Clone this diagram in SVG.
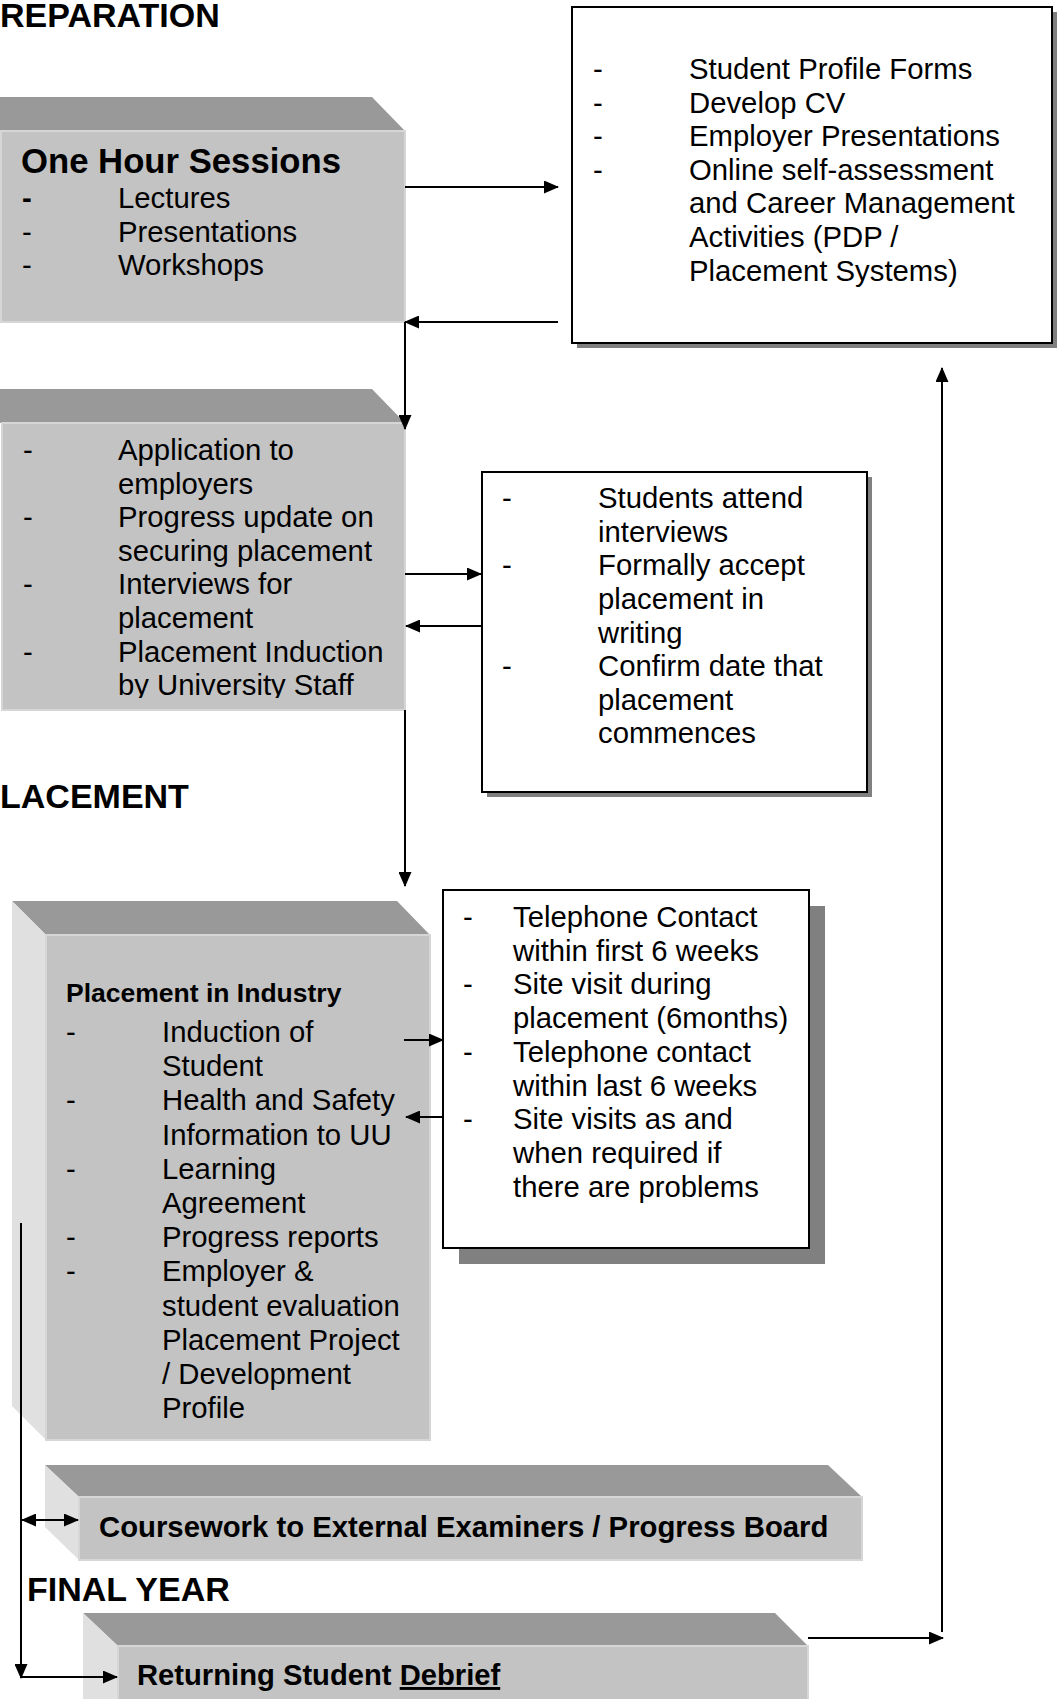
<svg xmlns="http://www.w3.org/2000/svg" width="1061" height="1699" viewBox="0 0 1061 1699">
<style>
.t{font-family:"Liberation Sans",Arial,sans-serif;font-size:29.3px;fill:#000}
.b{font-family:"Liberation Sans",Arial,sans-serif;font-weight:bold;fill:#000}
.top{fill:#999999}
.side{fill:#e0e0e0}
.front{fill:#c3c3c3;stroke:#d6d6d6;stroke-width:2}
.box{fill:#fff;stroke:#000;stroke-width:2}
.shadow{fill:#808080}
.ln{stroke:#000;stroke-width:2;fill:none}
</style>
<defs>
<marker id="ah" markerUnits="userSpaceOnUse" markerWidth="15" markerHeight="13" refX="14" refY="6.5" orient="auto-start-reverse">
<path d="M0,0 L15,6.5 L0,13 z" fill="#000"/>
</marker>
<clipPath id="clip3"><rect x="0" y="423" width="405" height="275"/></clipPath>
</defs>
<rect x="0" y="0" width="1061" height="1699" fill="#fff"/>

<text class="b" x="0" y="27" font-size="34">REPARATION</text>
<text class="b" x="0" y="808" font-size="34">LACEMENT</text>
<text class="b" x="27" y="1601" font-size="34">FINAL YEAR</text>

<g id="sessions">
<polygon class="top" points="-40,97 372,97 405,131 -40,131"/>
<rect class="front" x="1" y="131" width="404" height="191"/>
<text class="b" x="21" y="173" font-size="34.7">One Hour Sessions</text>
<text class="t"><tspan x="22" y="208" font-weight="bold">-</tspan><tspan x="118" y="208">Lectures</tspan><tspan x="22" y="242">-</tspan><tspan x="118" y="242">Presentations</tspan><tspan x="22" y="275">-</tspan><tspan x="118" y="275">Workshops</tspan></text>
</g>

<g id="profile">
<rect class="shadow" x="577" y="12" width="480" height="336"/>
<rect class="box" x="572" y="7" width="480" height="336"/>
<text class="t"><tspan x="593" y="79">-</tspan><tspan x="689" y="79">Student Profile Forms</tspan><tspan x="593" y="113">-</tspan><tspan x="689" y="113">Develop CV</tspan><tspan x="593" y="146">-</tspan><tspan x="689" y="146">Employer Presentations</tspan><tspan x="593" y="180">-</tspan><tspan x="689" y="180">Online self-assessment</tspan><tspan x="689" y="213">and Career Management</tspan><tspan x="689" y="247">Activities (PDP /</tspan><tspan x="689" y="281">Placement Systems)</tspan></text>
</g>

<g id="application">
<polygon class="top" points="-40,389 372,389 405,423 -40,423"/>
<rect class="front" x="2" y="423" width="403" height="287"/>
<text class="t" clip-path="url(#clip3)"><tspan x="23" y="460">-</tspan><tspan x="118" y="460">Application to</tspan><tspan x="118" y="493.6">employers</tspan><tspan x="23" y="527.2">-</tspan><tspan x="118" y="527.2">Progress update on</tspan><tspan x="118" y="560.8">securing placement</tspan><tspan x="23" y="594.4">-</tspan><tspan x="118" y="594.4">Interviews for</tspan><tspan x="118" y="628">placement</tspan><tspan x="23" y="661.6">-</tspan><tspan x="118" y="661.6">Placement Induction</tspan><tspan x="118" y="695.2">by University Staff</tspan></text>
</g>

<g id="interviews">
<rect class="shadow" x="487" y="477" width="385" height="320"/>
<rect class="box" x="482" y="472" width="385" height="320"/>
<text class="t"><tspan x="502" y="508">-</tspan><tspan x="598" y="508">Students attend</tspan><tspan x="598" y="542">interviews</tspan><tspan x="502" y="575">-</tspan><tspan x="598" y="575">Formally accept</tspan><tspan x="598" y="609">placement in</tspan><tspan x="598" y="643">writing</tspan><tspan x="502" y="676">-</tspan><tspan x="598" y="676">Confirm date that</tspan><tspan x="598" y="710">placement</tspan><tspan x="598" y="743">commences</tspan></text>
</g>

<g id="industry">
<polygon class="top" points="12,901 397,901 430,935 46,935"/>
<polygon class="side" points="12,901 46,935 46,1440 12,1406"/>
<rect class="front" x="46" y="935" width="384" height="505"/>
<text class="b" x="66" y="1002" font-size="26.5">Placement in Industry</text>
<text class="t"><tspan x="66" y="1042">-</tspan><tspan x="162" y="1042">Induction of</tspan><tspan x="162" y="1076.2">Student</tspan><tspan x="66" y="1110.4">-</tspan><tspan x="162" y="1110.4">Health and Safety</tspan><tspan x="162" y="1144.6">Information to UU</tspan><tspan x="66" y="1178.8">-</tspan><tspan x="162" y="1178.8">Learning</tspan><tspan x="162" y="1213">Agreement</tspan><tspan x="66" y="1247.2">-</tspan><tspan x="162" y="1247.2">Progress reports</tspan><tspan x="66" y="1281.4">-</tspan><tspan x="162" y="1281.4">Employer &amp;</tspan><tspan x="162" y="1315.6">student evaluation</tspan><tspan x="162" y="1349.8">Placement Project</tspan><tspan x="162" y="1384">/ Development</tspan><tspan x="162" y="1418.2">Profile</tspan></text>
</g>

<g id="monitoring">
<rect class="shadow" x="459" y="906" width="366" height="358"/>
<rect class="box" x="443" y="890" width="366" height="358"/>
<text class="t"><tspan x="463" y="927">-</tspan><tspan x="513" y="927">Telephone Contact</tspan><tspan x="513" y="960.7">within first 6 weeks</tspan><tspan x="463" y="994.4">-</tspan><tspan x="513" y="994.4">Site visit during</tspan><tspan x="513" y="1028.1">placement (6months)</tspan><tspan x="463" y="1061.8">-</tspan><tspan x="513" y="1061.8">Telephone contact</tspan><tspan x="513" y="1095.5">within last 6 weeks</tspan><tspan x="463" y="1129.2">-</tspan><tspan x="513" y="1129.2">Site visits as and</tspan><tspan x="513" y="1162.9">when required if</tspan><tspan x="513" y="1196.6">there are problems</tspan></text>
</g>

<g id="coursework">
<polygon class="top" points="45,1465 828,1465 862,1497 79,1497"/>
<polygon class="side" points="45,1465 79,1497 79,1560 45,1527"/>
<rect class="front" x="79" y="1497" width="783" height="63"/>
<text class="b" x="99" y="1537" font-size="29.3">Coursework to External Examiners / Progress Board</text>
</g>

<g id="debrief">
<polygon class="top" points="83,1613 775,1613 808,1646 118,1646"/>
<polygon class="side" points="83,1613 118,1646 118,1720 83,1720"/>
<rect class="front" x="118" y="1646" width="690" height="70"/>
<text class="b" x="137" y="1685" font-size="29.2">Returning Student <tspan text-decoration="underline">Debrief</tspan></text>
</g>

<g id="connectors">
<line class="ln" x1="405" y1="187" x2="558" y2="187" marker-end="url(#ah)"/>
<line class="ln" x1="558" y1="322" x2="405" y2="322" marker-end="url(#ah)"/>
<line class="ln" x1="405" y1="322" x2="405" y2="429" marker-end="url(#ah)"/>
<line class="ln" x1="405" y1="574" x2="481" y2="574" marker-end="url(#ah)"/>
<line class="ln" x1="482" y1="626" x2="406" y2="626" marker-end="url(#ah)"/>
<line class="ln" x1="405" y1="710" x2="405" y2="886" marker-end="url(#ah)"/>
<line class="ln" x1="404" y1="1040" x2="443" y2="1040" marker-end="url(#ah)"/>
<line class="ln" x1="443" y1="1117" x2="406" y2="1117" marker-end="url(#ah)"/>
<line class="ln" x1="21" y1="1223" x2="21" y2="1678" marker-end="url(#ah)"/>
<line class="ln" x1="22" y1="1520" x2="78" y2="1520" marker-start="url(#ah)" marker-end="url(#ah)"/>
<line class="ln" x1="21" y1="1677" x2="117" y2="1677" marker-end="url(#ah)"/>
<line class="ln" x1="808" y1="1638" x2="943" y2="1638" marker-end="url(#ah)"/>
<line class="ln" x1="942" y1="1632" x2="942" y2="368" marker-end="url(#ah)"/>
</g>
</svg>
